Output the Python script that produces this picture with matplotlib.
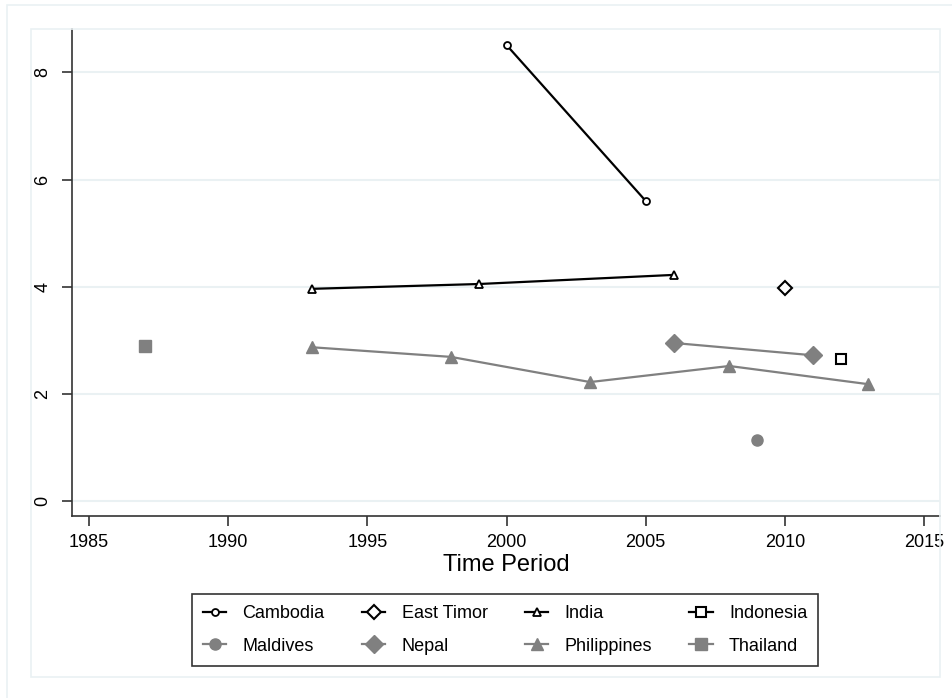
import matplotlib
matplotlib.use("Agg")
import matplotlib.pyplot as plt
from matplotlib.patches import Rectangle

plt.rcParams["font.family"] = ["Liberation Sans", "DejaVu Sans"]

# values
cambodia_x = [2000, 2005]
cambodia_y = [8.51, 5.60]
east_timor_x = [2010]
east_timor_y = [3.97]
india_x = [1993, 1999, 2006]
india_y = [3.96, 4.05, 4.22]
indonesia_x = [2012]
indonesia_y = [2.65]
maldives_x = [2009]
maldives_y = [1.14]
nepal_x = [2006, 2011]
nepal_y = [2.95, 2.72]
philippines_x = [1993, 1998, 2003, 2008, 2013]
philippines_y = [2.87, 2.69, 2.22, 2.52, 2.18]
thailand_x = [1987]
thailand_y = [2.89]

x_ticks = [1985, 1990, 1995, 2000, 2005, 2010, 2015]
y_ticks = [0, 2, 4, 6, 8]

W, H = 953, 698
GRID = "#eaf1f3"
GRAY = "#808080"

fig = plt.figure(figsize=(W / 100, H / 100), dpi=100)

# faint Stata-style frames
fig.patches.append(Rectangle((7 / W, -0.01), 1.02, 1 - 5 / H + 0.01, transform=fig.transFigure,
                             fill=False, edgecolor=GRID, linewidth=1.2))
fig.patches.append(Rectangle((31 / W, 1 - 677 / H), (940 - 31) / W, (677 - 29) / H,
                             transform=fig.transFigure, fill=False, edgecolor=GRID, linewidth=1.2))

ax = fig.add_axes([72 / W, 1 - 516 / H, (940 - 72) / W, (516 - 29) / H])
ax.set_facecolor("none")

h = {}
h["Cambodia"], = ax.plot(cambodia_x, cambodia_y, color="black", lw=1.6, marker="o", ms=5,
                         mfc="white", mec="black", mew=1.3)
h["East Timor"], = ax.plot(east_timor_x, east_timor_y, color="black", lw=1.6, marker="D", ms=7,
                           mfc="white", mec="black", mew=1.5)
h["India"], = ax.plot(india_x, india_y, color="black", lw=1.6, marker="^", ms=6,
                      mfc="white", mec="black", mew=1.3)
h["Indonesia"], = ax.plot(indonesia_x, indonesia_y, color="black", lw=1.6, marker="s", ms=6.5,
                          mfc="white", mec="black", mew=1.5)
h["Maldives"], = ax.plot(maldives_x, maldives_y, color=GRAY, lw=1.6, marker="o", ms=8)
h["Nepal"], = ax.plot(nepal_x, nepal_y, color=GRAY, lw=1.6, marker="D", ms=9.5)
h["Philippines"], = ax.plot(philippines_x, philippines_y, color=GRAY, lw=1.6, marker="^", ms=9)
h["Thailand"], = ax.plot(thailand_x, thailand_y, color=GRAY, lw=1.6, marker="s", ms=8.5)

ax.set_xlim(1984.39, 2015.57)
ax.set_ylim(-0.28, 8.81)
ax.set_xticks(x_ticks)
ax.set_yticks(y_ticks)
ax.set_yticklabels([str(v) for v in y_ticks], rotation=90, va="center")
ax.grid(axis="y", color=GRID, lw=1.5)
ax.set_axisbelow(True)

for s in ["top", "right"]:
    ax.spines[s].set_visible(False)
for s in ["left", "bottom"]:
    ax.spines[s].set_color("#333333")
    ax.spines[s].set_linewidth(1.2)

ax.tick_params(axis="both", direction="out", color="#333333", labelsize=13,
               length=7, width=1.2)
ax.tick_params(axis="y", pad=8)
ax.tick_params(axis="x", pad=6)
ax.set_xlabel("Time Period", fontsize=17, labelpad=2)

# legend filled column by column, so order it to read row-wise like the reference
order = ["Cambodia", "Maldives", "East Timor", "Nepal",
         "India", "Philippines", "Indonesia", "Thailand"]
leg = fig.legend([h[k] for k in order], order, loc="center", ncol=4, mode="expand",
                 bbox_to_anchor=(192 / W, 1 - 670 / H, (818 - 192) / W, (670 - 590) / H),
                 fontsize=13, frameon=True, fancybox=False, edgecolor="black",
                 handlelength=1.3, handletextpad=0.9, borderaxespad=0,
                 labelspacing=0.85, borderpad=0.6)
leg.get_frame().set_linewidth(1.2)

fig.savefig("out.png", dpi=100)
